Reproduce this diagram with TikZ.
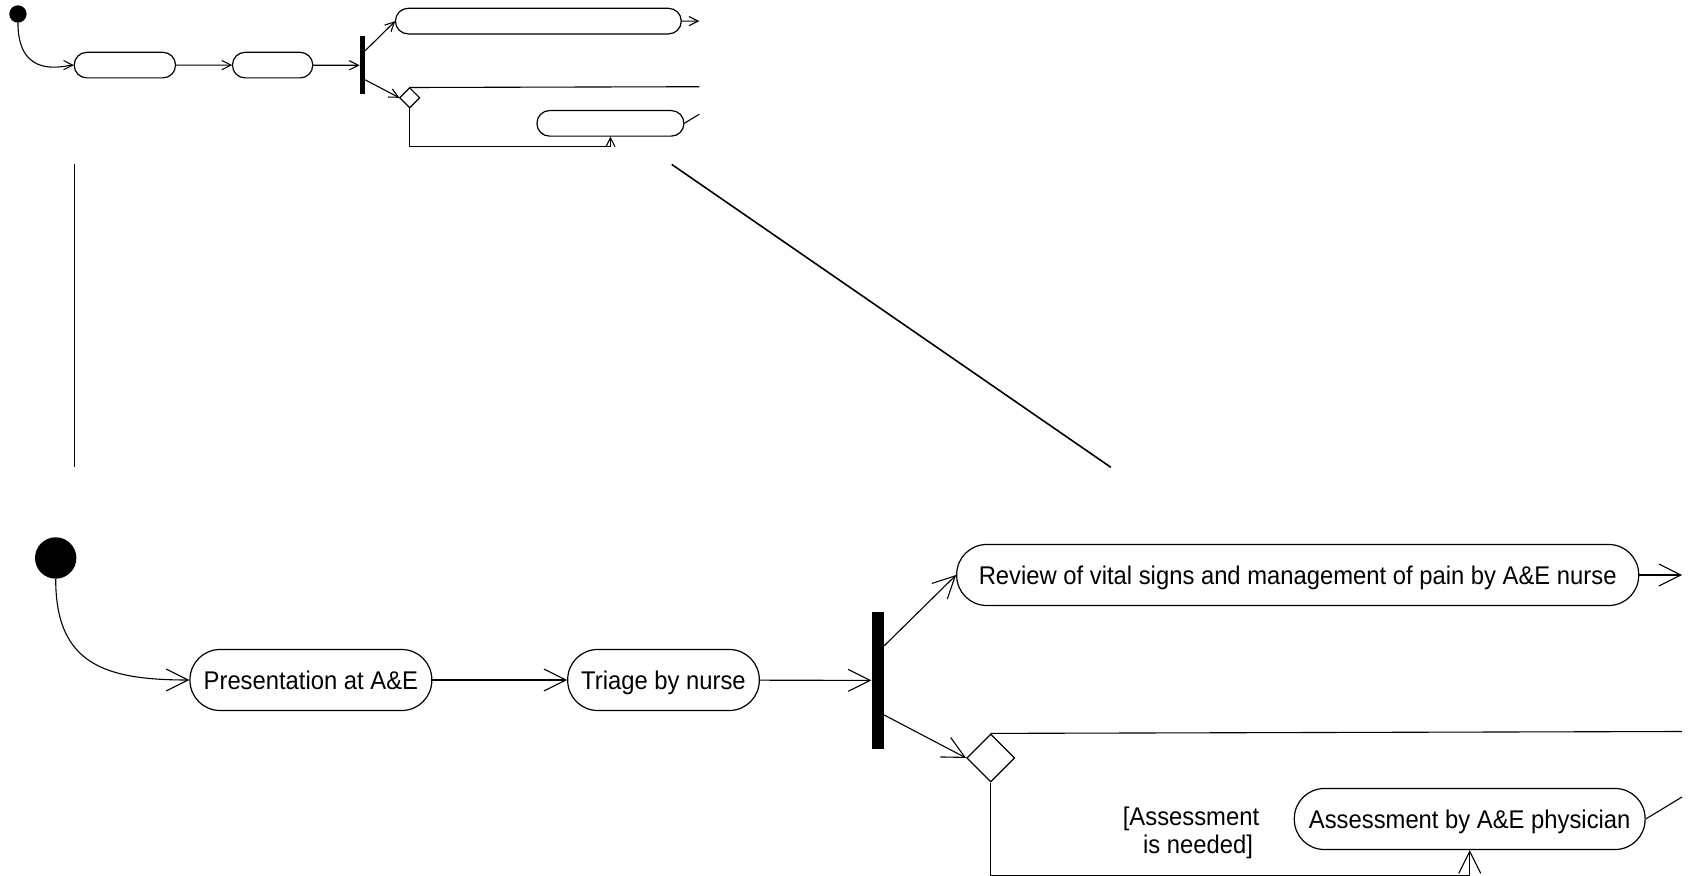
\documentclass[tikz,border=0pt]{standalone}
\usepackage{fontspec}
\setmainfont[FakeStretch=0.93]{Liberation Sans}
\usetikzlibrary{arrows.meta,shapes.geometric,calc}

\tikzset{
	act/.style={draw, line width=0.6pt, rectangle, rounded corners=15pt, minimum height=30.5pt, inner xsep=2pt, text height=9.2pt, text depth=0pt, font=\fontsize{12.8pt}{14pt}\selectfont},
	start/.style={circle, fill=black, minimum size=20.7pt, inner sep=0pt},
	forkbar/.style={rectangle, fill=black, minimum width=6pt, minimum height=68.7pt, inner sep=0pt},
	dec/.style={draw, line width=0.6pt, diamond, minimum width=24pt, minimum height=24pt, inner sep=0pt},
	guard/.style={align=center, font=\fontsize{12.8pt}{14pt}\selectfont},
	flow/.style={line width=0.55pt},
}

% the A&E flow, drawn once small and once large
\newcommand{\aeflow}{%
	\node[start] (init) at (55.7,558) {};
	\node[act, minimum width=120.9pt] (pres) at (310.9,680) {Presentation at A\&E};
	\node[act, minimum width=95.8pt] (triage) at (663.5,680) {Triage by nurse};
	\node[forkbar] (fork) at (877.7,680.4) {};
	\node[act, minimum width=341pt] (review) at (1297.7,575) {Review of vital signs and management of pain by A\&E nurse};
	\node[dec] (choice) at (990.7,758) {};
	\node[act, minimum width=175.4pt] (assess) at (1469.7,819) {Assessment by A\&E physician};
	\node[guard] (need) at (1191,833) {[Assessment\\\hspace*{7pt}is needed]};
	\coordinate (rOut) at (1682,575);
	\coordinate (cOut) at (1682,731.5);
	\coordinate (aOut) at (1682,797);
	%
	\draw[flow, ->] (init) to[out=-90, in=180, looseness=1.3] (pres);
	\draw[flow, ->] (pres) -- (triage);
	\draw[flow, ->] (triage) -- (fork);
	\draw[flow, ->] ($(fork.north east)!.25!(fork.south east)$) -- (review.west);
	\draw[flow, ->] ($(fork.north east)!.75!(fork.south east)$) -- (choice.west);
	\draw[flow, ->] (review) -- (rOut);
	\draw[flow] (choice.north) -- (cOut);
	\draw[flow, ->] (choice.south) |- ([yshift=-12.5pt]assess.south) -- (assess.south);
	\draw[flow] (assess.east) -- (aOut);
}

\begin{document}
\begin{tikzpicture}[x=0.5pt, y=-0.5pt, >={Straight Barb[length=11pt, width=11pt]}]
	\useasboundingbox (0,0) rectangle (1696,876);
	
	% overview
	\begin{scope}[shift={(-5.4,-219.8)}, scale=0.419, transform shape, name prefix=t-, text=white,
		act/.append style={rounded corners=6.3pt}, >={Straight Barb[length=4.6pt, width=4.6pt]}]
		\aeflow
	\end{scope}
	
	% zoom lines
	\coordinate (zl1) at (74.6,164.4);
	\coordinate (zl2) at (74.6,467.3);
	\coordinate (zr1) at (671.7,164.4);
	\coordinate (zr2) at (1110.8,467.3);
	\draw[line width=0.8pt] (zl1) -- (zl2);
	\draw[line width=0.8pt] (zr1) -- (zr2);
	
	% detail
	\aeflow
\end{tikzpicture}
\end{document}
